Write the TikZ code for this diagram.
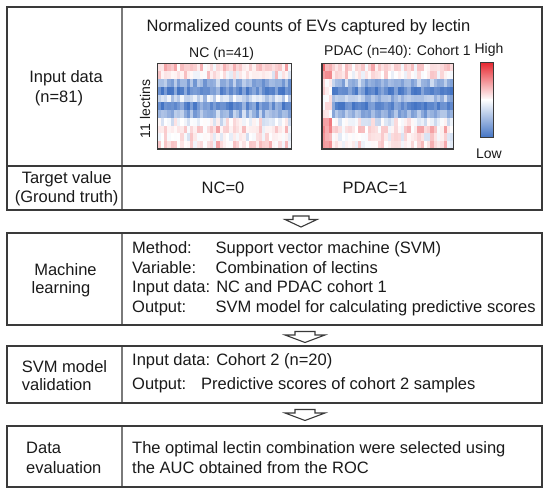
\documentclass[tikz,border=0pt]{standalone}
\usepackage{fontspec}
\setmainfont{Liberation Sans}
\definecolor{bord}{HTML}{3A3A3A}
\definecolor{divc}{HTML}{7A7A7A}
\definecolor{txt}{HTML}{1A1A1A}
\definecolor{hmred}{HTML}{E6262E}
\definecolor{hmblue}{HTML}{4474C4}
\tikzset{
  lbl/.style={font=\fontsize{16.5}{19}\selectfont, inner sep=0pt, text=txt, anchor=base},
  lblw/.style={lbl, anchor=base west},
  sml/.style={font=\fontsize{14}{16}\selectfont, inner sep=0pt, text=txt, anchor=base},
  boxline/.style={draw=bord, line width=1.3pt},
  divline/.style={draw=divc, line width=1.2pt},
  hmframe/.style={draw=bord, line width=1.2pt},
  blockarrow/.style={draw=bord, line width=1.1pt, fill=white, line join=miter},
  downarrow/.pic={\draw[blockarrow] (-8,0) -- (8,0) -- (8,3.5) -- (16,3.5) -- (0,11) -- (-16,3.5) -- (-8,3.5) -- cycle;}
}
\begin{document}
\begin{tikzpicture}[x=1pt,y=-1pt]
\useasboundingbox[fill=white] (0,0) rectangle (550,496);

% ---------- heatmaps ----------
\pgfmathsetseed{41}
\foreach \r/\b in {1/0.16,2/0.06,3/-0.55,4/-0.8,5/-0.25,6/-0.8,7/-0.5,8/-0.05,9/0.13,10/0.04,11/0.14}{
  \foreach \c in {1,...,41}{
    \pgfmathsetmacro\v{\b+0.2*rand+0.1*sin(\c*137.5)}
    \pgfmathsetmacro\p{min(100,abs(\v)*100)}
    \ifdim\v pt>0pt \def\hc{hmred}\else\def\hc{hmblue}\fi
    \fill[fill=\hc!\p!white] ({157.5+(\c-1)*3.268},{63.5+(\r-1)*7.77}) rectangle ++(3.32,7.83);
  }
}
\pgfmathsetseed{40}
\foreach \r/\b in {1/0.18,2/0.06,3/-0.5,4/-0.85,5/-0.45,6/-0.85,7/-0.55,8/-0.1,9/0.18,10/0.04,11/0.1}{
  \foreach \c in {1,...,40}{
    \pgfmathsetmacro\v{\b+0.2*rand+0.1*sin(\c*97.3)}
    \pgfmathsetmacro\v{\c<4 ? (\b<-0.2 ? 0.1+0.15*rand : 0.5+0.2*rand) : \v}
    \pgfmathsetmacro\p{min(100,abs(\v)*100)}
    \ifdim\v pt>0pt \def\hc{hmred}\else\def\hc{hmblue}\fi
    \fill[fill=\hc!\p!white] ({322+(\c-1)*3.2875},{63.5+(\r-1)*7.77}) rectangle ++(3.34,7.83);
  }
}
\coordinate (nc1) at (157.5,63.5);  \coordinate (nc2) at (291.5,149);
\coordinate (pd1) at (322,63.5);    \coordinate (pd2) at (453.5,149);
\draw[hmframe] (nc1) rectangle (nc2);
\draw[hmframe] (pd1) rectangle (pd2);

% colour bar
\coordinate (cb1) at (480.5,62); \coordinate (cbm) at (493.5,99.75); \coordinate (cbm2) at (480.5,99.75); \coordinate (cb2) at (493.5,137.5);
\shade[top color=hmred, bottom color=white] (cb1) rectangle (cbm);
\shade[top color=white, bottom color=hmblue] (cbm2) rectangle (cb2);
\draw[draw=bord, line width=0.9pt] (cb1) rectangle (cb2);

% ---------- boxes ----------
\coordinate (t1) at (7,7);     \coordinate (t2) at (542,210);
\coordinate (m1) at (7,233);   \coordinate (m2) at (542,325);
\coordinate (s1) at (7,346);   \coordinate (s2) at (542,403);
\coordinate (d1) at (7,426);   \coordinate (d2) at (542,487);
\draw[divline] (122,7) -- (122,210);
\draw[divline] (122,233) -- (122,325);
\draw[divline] (122,346) -- (122,403);
\draw[divline] (122,426) -- (122,487);
\draw[boxline] (7,166) -- (542,166);
\draw[boxline] (t1) rectangle (t2);
\draw[boxline] (m1) rectangle (m2);
\draw[boxline] (s1) rectangle (s2);
\draw[boxline] (d1) rectangle (d2);

% ---------- arrows ----------
\coordinate (a1) at (301,216);
\coordinate (a2) at (305,331.5);
\coordinate (a3) at (305,409.5);
\pic at (a1) {downarrow};
\pic[xscale=1.25] at (a2) {downarrow};
\pic[xscale=1.25] at (a3) {downarrow};

% ---------- texts ----------
\node[lbl] (title) at (308.5,31) {Normalized counts of EVs captured by lectin};
\node[sml] (ncl) at (221.7,57.7) {NC (n=41)};
\node[sml, anchor=base west] (pdl) at (324,55) {PDAC (n=40): Cohort 1};
\node[sml] (hi) at (489,53.3) {High};
\node[sml] (lo) at (489,158.3) {Low};
\node[sml, rotate=90, anchor=center] (lec) at (145,109) {11 lectins};
\node[lbl] (in1) at (66,82.5) {Input data};
\node[lbl] (in2) at (59,102.5) {(n=81)};
\node[lbl] (tv1) at (66.7,183.5) {Target value};
\node[lbl] (tv2) at (66.7,202.5) {(Ground truth)};
\node[lbl] (nc0) at (223,193.5) {NC=0};
\node[lbl] (pd1t) at (375,193.5) {PDAC=1};

\node[lbl] (ml1) at (65.5,275.5) {Machine};
\node[lbl] (ml2) at (61,293.5) {learning};
\node[lblw] (mk1) at (132,253.5) {Method:};
\node[lblw] (mv1) at (215.4,253.5) {Support vector machine (SVM)};
\node[lblw] (mk2) at (132,273.5) {Variable:};
\node[lblw] (mv2) at (215.4,273.5) {Combination of lectins};
\node[lblw] (mk3) at (132,292.5) {Input data: NC and PDAC cohort 1};
\node[lblw] (mk4) at (132,312.5) {Output:};
\node[lblw] (mv4) at (215.4,312.5) {SVM model for calculating predictive scores};

\node[lblw] (sv1) at (21.7,372.6) {SVM model};
\node[lblw] (sv2) at (21.7,390.9) {validation};
\node[lblw] (sk1) at (132,365) {Input data: Cohort 2 (n=20)};
\node[lblw] (sk2) at (132,389) {Output:};
\node[lblw] (sv3) at (201,389) {Predictive scores of cohort 2 samples};

\node[lblw] (de1) at (26,453) {Data};
\node[lblw] (de2) at (26,473) {evaluation};
\node[lblw] (dt1) at (132,453) {The optimal lectin combination were selected using};
\node[lblw] (dt2) at (132,473) {the AUC obtained from the ROC};
\end{tikzpicture}
\end{document}
